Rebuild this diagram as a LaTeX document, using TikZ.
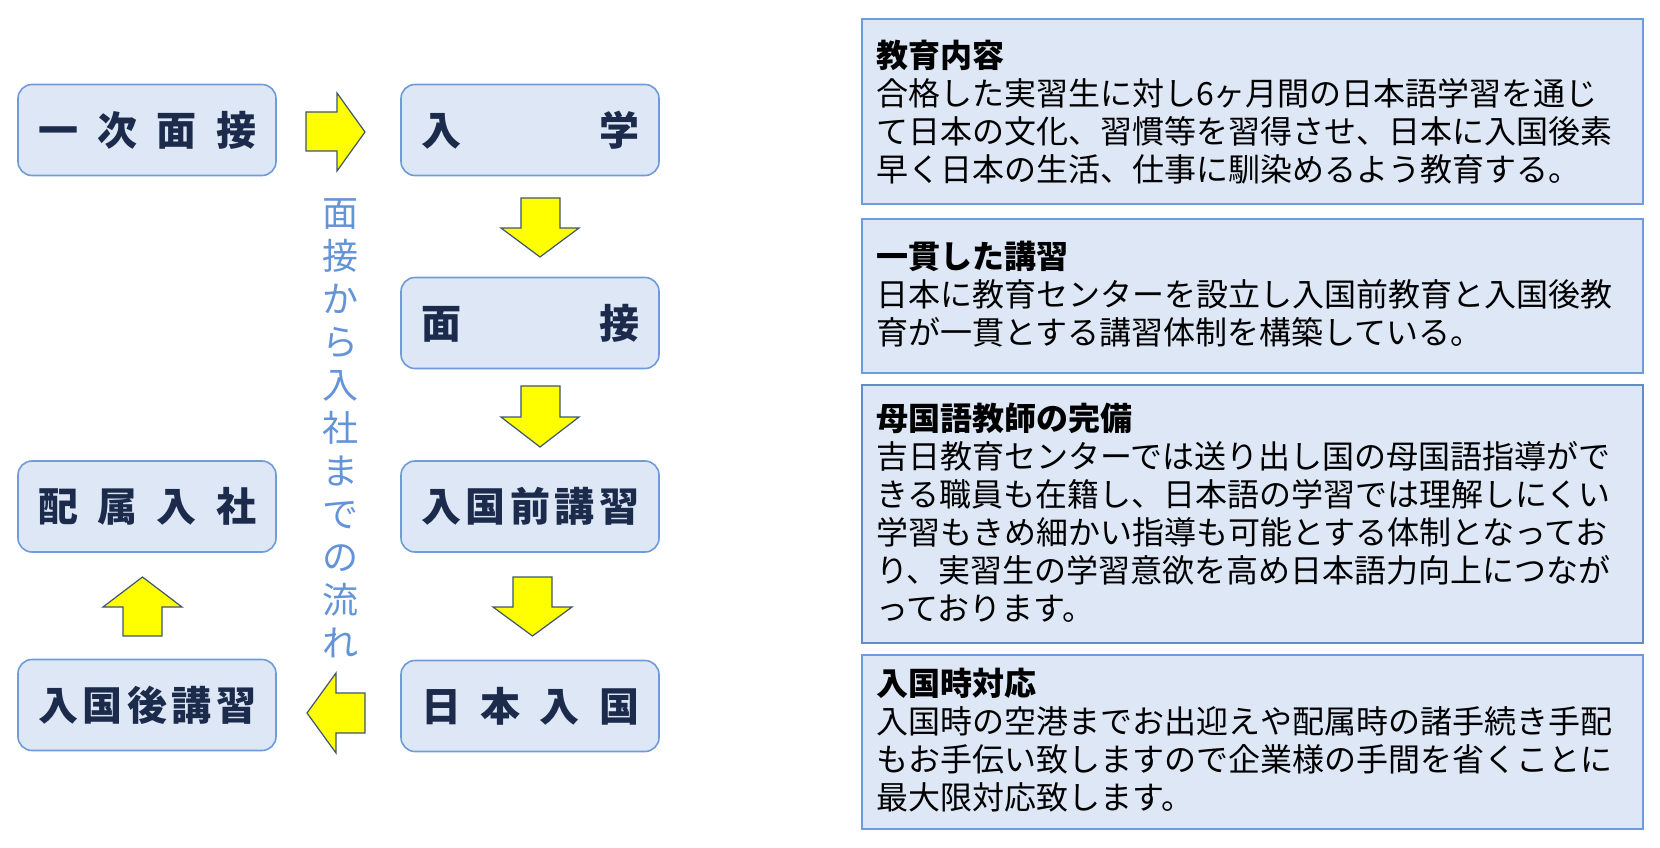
\documentclass[tikz,border=0pt]{standalone}
\usepackage{fontspec}
\setmainfont{Noto Sans CJK JP}
\usetikzlibrary{calc}
\definecolor{boxfill}{HTML}{DDE7F6}
\definecolor{boxline}{HTML}{6F9BD8}
\definecolor{flowtext}{HTML}{1C2B4B}
\definecolor{vtext}{HTML}{6494D8}
\definecolor{arrline}{HTML}{3F566E}
\definecolor{arrfill}{HTML}{FFFF00}
\begin{document}
\begin{tikzpicture}[x=1pt,y=-1pt,
  flowbox/.style={draw=boxline, line width=1.6pt, fill=boxfill, rounded corners=14pt,
    minimum width=258pt, minimum height=91pt, inner sep=0pt, text=flowtext,
    font=\fontsize{40}{40}\selectfont\bfseries},
  infobox/.style={draw=boxline, line width=1.5pt, fill=boxfill},
  infotext/.style={anchor=base west, align=left, inner sep=0pt,
    font=\fontsize{32}{38}\selectfont, text=black},
  blockarrow/.style={draw=arrline, line width=1.2pt, fill=arrfill, line join=miter},
  vlabel/.style={align=center, inner sep=0pt, text=vtext, font=\fontsize{36}{43}\selectfont}
  ]
\useasboundingbox (0,0) rectangle (1660,848);
\fill[white] (0,0) rectangle (1660,848);

% flow boxes
\node[flowbox] (b1) at (147,130) {\makebox[218pt]{一\hfill 次\hfill 面\hfill 接}};
\node[flowbox] (b2) at (530,130) {\makebox[218pt]{入\hfill 学}};
\node[flowbox] (b3) at (530,323) {\makebox[218pt]{面\hfill 接}};
\node[flowbox] (b4) at (530,506.5) {\makebox[218pt]{入\hfill 国\hfill 前\hfill 講\hfill 習}};
\node[flowbox] (b5) at (530,706) {\makebox[218pt]{日\hfill 本\hfill 入\hfill 国}};
\node[flowbox] (b6) at (147,506.5) {\makebox[218pt]{配\hfill 属\hfill 入\hfill 社}};
\node[flowbox] (b7) at (147,705) {\makebox[218pt]{入\hfill 国\hfill 後\hfill 講\hfill 習}};

% block arrows
\draw[blockarrow] (306,112) -- (337,112) -- (337,93) -- (365,132) -- (337,171) -- (337,151) -- (306,151) -- cycle;
\draw[blockarrow] (521,198) -- (560,198) -- (560,228) -- (579,228) -- (540,257) -- (501,228) -- (521,228) -- cycle;
\draw[blockarrow] (521,386) -- (560,386) -- (560,417) -- (579,417) -- (540,447) -- (501,417) -- (521,417) -- cycle;
\draw[blockarrow] (513,577) -- (552,577) -- (552,607) -- (572,607) -- (532.5,636) -- (493,607) -- (513,607) -- cycle;
\draw[blockarrow] (123,636) -- (162,636) -- (162,607) -- (182,607) -- (142.5,577) -- (103,607) -- (123,607) -- cycle;
\draw[blockarrow] (365,693) -- (336,693) -- (336,673) -- (307,713) -- (336,753) -- (336,733) -- (365,733) -- cycle;

% vertical label
\node[vlabel] (flow) at (340,428) {面\\接\\か\\ら\\入\\社\\ま\\で\\の\\流\\れ};

% info boxes
\draw[infobox] (862,19) rectangle (1643,204);
\draw[infobox] (862,219) rectangle (1643,373);
\draw[infobox, line width=2.2pt, draw=boxline!90!black] (862,385) rectangle (1643,643);
\draw[infobox] (862,655) rectangle (1643,829);

% anchor = baseline of the last line
\node[infotext] (t1) at (876,182) {\textbf{教育内容}\\合格した実習生に対し6ヶ月間の日本語学習を通じ\\て日本の文化、習慣等を習得させ、日本に入国後素\\早く日本の生活、仕事に馴染めるよう教育する。};
\node[infotext] (t2) at (876,344) {\textbf{一貫した講習}\\日本に教育センターを設立し入国前教育と入国後教\\育が一貫とする講習体制を構築している。};
\node[infotext] (t3) at (876,620) {\textbf{母国語教師の完備}\\吉日教育センターでは送り出し国の母国語指導がで\\きる職員も在籍し、日本語の学習では理解しにくい\\学習もきめ細かい指導も可能とする体制となってお\\り、実習生の学習意欲を高め日本語力向上につなが\\っております。};
\node[infotext] (t4) at (876,809) {\textbf{入国時対応}\\入国時の空港までお出迎えや配属時の諸手続き手配\\もお手伝い致しますので企業様の手間を省くことに\\最大限対応致します。};
\end{tikzpicture}
\end{document}
